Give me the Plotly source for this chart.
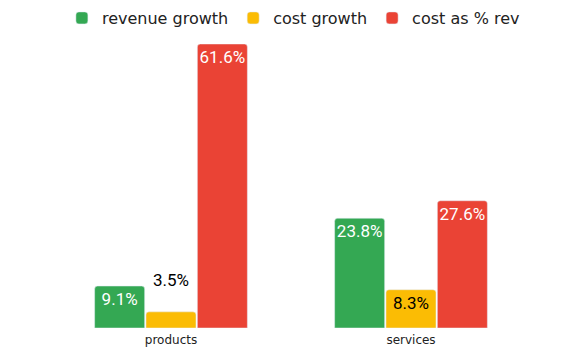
import plotly.graph_objects as go

categories = ["products", "services"]
series_names = ["revenue growth", "cost growth", "cost as % rev"]
revenue_growth = [9.1, 23.8]
cost_growth = [3.5, 8.3]
cost_pct_rev = [61.6, 27.6]
colors = ["#34A853", "#FBBC04", "#EA4335"]
inside_text_colors = ["white", "black", "white"]

fig = go.Figure()
for name, vals, col, tcol in zip(series_names, [revenue_growth, cost_growth, cost_pct_rev], colors, inside_text_colors):
    pos = ["inside" if v > 5 else "outside" for v in vals]
    # outside labels get a small spacer line so they sit a bit higher above the bar
    labels = [f"{v:.1f}%" if p == "inside" else f"{v:.1f}%<br><span style='font-size:6px'>&nbsp;</span>"
              for v, p in zip(vals, pos)]
    fig.add_trace(go.Bar(
        x=categories, y=vals, name=name,
        marker=dict(color=col, cornerradius=3),
        text=labels,
        textposition=pos,
        textangle=0,
        constraintext="none",
        insidetextanchor="end",
        insidetextfont=dict(family="Roboto", size=17, color=tcol),
        outsidetextfont=dict(family="Roboto", size=17, color="black"),
        cliponaxis=False,
        hoverinfo="skip",
    ))

fig.update_layout(
    width=586, height=356,
    margin=dict(l=51, r=55, t=44, b=28, autoexpand=False),
    barmode="group",
    bargap=0.358,
    bargroupgap=0.026,
    plot_bgcolor="white", paper_bgcolor="white",
    showlegend=True,
    legend=dict(orientation="h", x=0.505, xanchor="center", y=1.0915, yanchor="middle",
                font=dict(family="DejaVu Sans", size=16, color="#222"),
                itemwidth=30, traceorder="normal"),
    xaxis=dict(showgrid=False, showline=False, ticks="", ticklabelstandoff=3,
               tickfont=dict(family="DejaVu Sans", size=12, color="#222")),
    yaxis=dict(visible=False, range=[0, 61.6], showgrid=False, zeroline=False),
    uniformtext=dict(mode=False),
)

fig.write_html("out.html", config={"displayModeBar": False},
               post_script="document.body.style.margin='0';")
